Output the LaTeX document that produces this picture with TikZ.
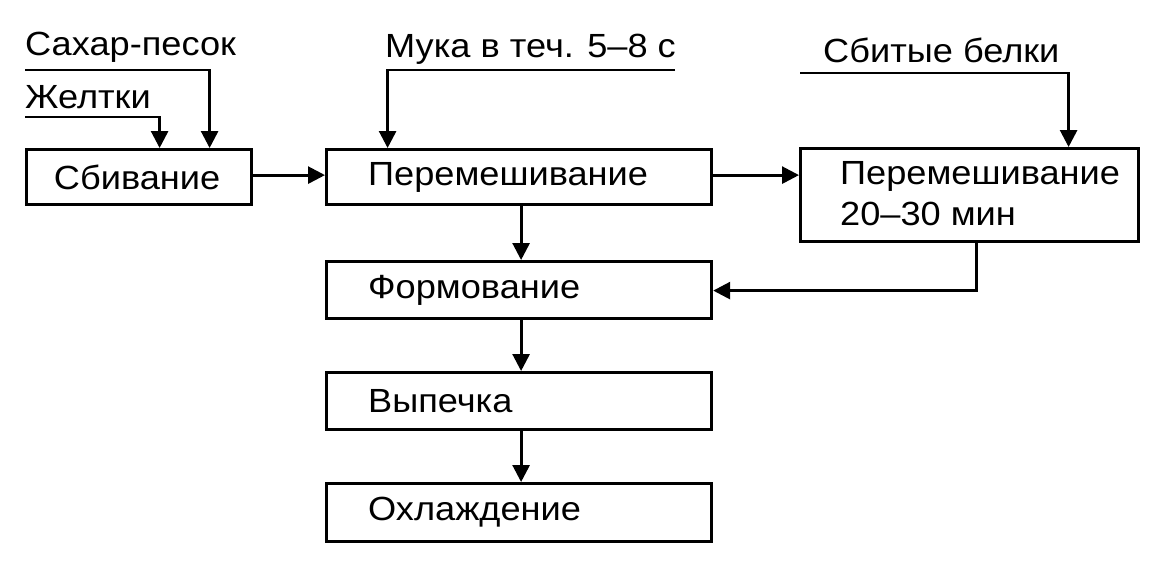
\documentclass[tikz,border=0pt]{standalone}
\usepackage{fontspec}
\setmainfont{Liberation Sans}[FakeStretch=1.08]
\usetikzlibrary{arrows.meta}
\begin{document}
\begin{tikzpicture}[x=1pt,y=-1pt,
  box/.style={draw, line width=3.2pt, inner sep=0pt, anchor=north west},
  lbl/.style={inner sep=0pt, font=\fontsize{33.5}{40}\selectfont},
  txt/.style={inner sep=0pt, font=\fontsize{33.5}{41}\selectfont, align=left},
  conn/.style={line width=2.8pt, -{Triangle[length=17pt,width=17pt]}}]
\useasboundingbox (0,0) rectangle (1176,566);
% boxes
\node[box, minimum width=225pt, minimum height=55pt] (sbiv) at (25,148) {};
\node[txt] (sbivt) at ([xshift=-2pt]sbiv.center) {Сбивание};
\node[box, minimum width=385pt, minimum height=55pt] (per1) at (325,148) {};
\node[txt, anchor=west] (per1t) at ([xshift=43pt]per1.west) {Перемешивание};
\node[box, minimum width=338pt, minimum height=93pt] (per2) at (799,147) {};
\node[txt, anchor=west] (per2t) at ([xshift=41pt,yshift=1pt]per2.west) {Перемешивание\\20–30 мин};
\node[box, minimum width=385pt, minimum height=57pt] (form) at (325,260) {};
\node[txt, anchor=west] (formt) at ([xshift=43pt]form.west) {Формование};
\node[box, minimum width=385pt, minimum height=57pt] (vyp) at (325,371) {};
\node[txt, anchor=west] (vypt) at ([xshift=43pt]vyp.west) {Выпечка};
\node[box, minimum width=385pt, minimum height=58pt] (ohl) at (325,482) {};
\node[txt, anchor=west] (ohlt) at ([xshift=43pt]ohl.west) {Охлаждение};
% labels
\node[lbl, anchor=base west] (sahar) at (25,55) {Сахар-песок};
\node[lbl, anchor=base west] (zhel) at (25,108) {Желтки};
\node[lbl, anchor=base west] (muka) at (385,57) {Мука в теч. 5–8 с};
\node[lbl, anchor=base west] (belki) at (823,62) {Сбитые белки};
% input line starts
\coordinate (s1) at (25,70);
\coordinate (z1) at (25,117);
\coordinate (m1) at (675,70);
\coordinate (b1) at (800,73);
% connectors
\draw[conn] (s1) -| ([xshift=70.5pt]sbiv.north);
\draw[conn] (z1) -| ([xshift=20.5pt]sbiv.north);
\draw[conn] (m1) -| ([xshift=-131.5pt]per1.north);
\draw[conn] (b1) -| ([xshift=99pt]per2.north);
\draw[conn] ([yshift=2pt]sbiv.east) -- ([yshift=2pt]sbiv.east -| per1.west);
\draw[conn] ([yshift=2pt]per1.east) -- ([yshift=2pt]per1.east -| per2.west);
\draw[conn] ([xshift=2pt]per1.south) -- ([xshift=2pt]form.north);
\draw[conn] ([xshift=7pt]per2.south) |- ([yshift=-0.5pt]form.east);
\draw[conn] ([xshift=2pt]form.south) -- ([xshift=2pt]vyp.north);
\draw[conn] ([xshift=2pt]vyp.south) -- ([xshift=2pt]ohl.north);
\end{tikzpicture}
\end{document}
